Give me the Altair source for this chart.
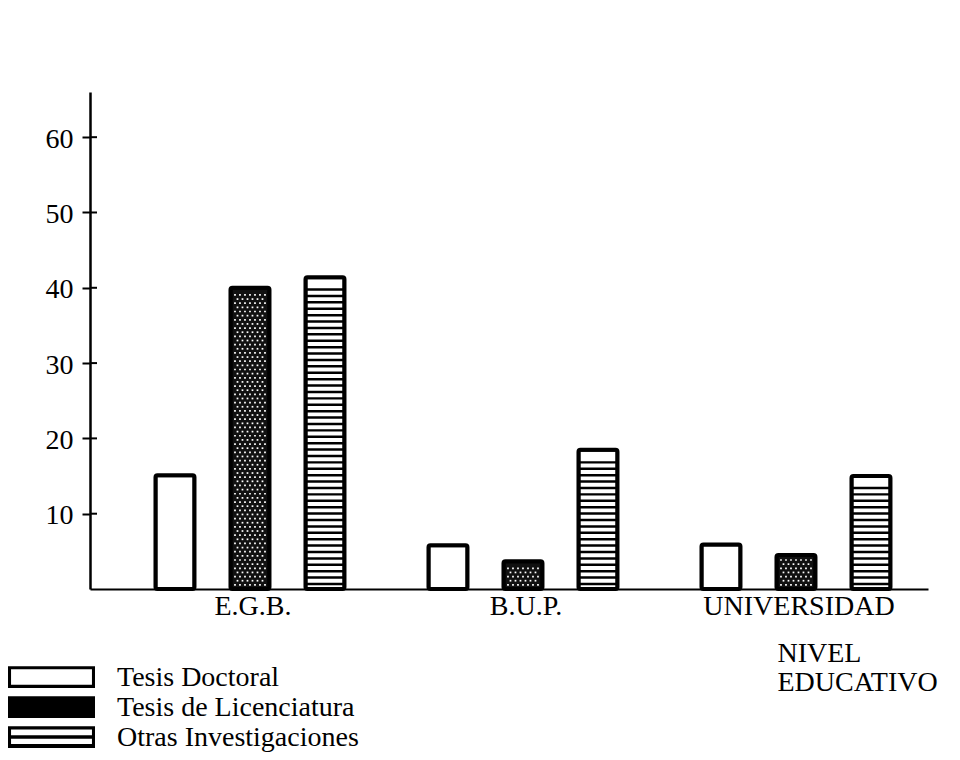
import altair as alt
import pandas as pd

categories = ["E.G.B.", "B.U.P.", "UNIVERSIDAD"]
series = ["Tesis Doctoral", "Tesis de Licenciatura", "Otras Investigaciones"]
tesis_doctoral = [15.1, 5.8, 5.9]
tesis_licenciatura = [40.0, 3.7, 4.5]
otras_investigaciones = [41.4, 18.5, 15.0]
y_ticks = [10, 20, 30, 40, 50, 60]
y_max = 66

FONT = "Liberation Serif"
FS = 28

rows = []
for i, c in enumerate(categories):
    for s, vals in zip(series, [tesis_doctoral, tesis_licenciatura, otras_investigaciones]):
        rows.append({"nivel": c, "tipo": s, "valor": vals[i]})
df = pd.DataFrame(rows)

# texture of "Otras Investigaciones": horizontal stripes
stripe_period = 0.85
stripe_thick = 0.33
stripes = []
for i, c in enumerate(categories):
    v = otras_investigaciones[i]
    k = 0
    while True:
        lo = 0.5 + k * stripe_period
        hi = lo + stripe_thick
        if hi > v - 0.75:
            break
        stripes.append({"nivel": c, "tipo": series[2], "lo": lo, "hi": hi})
        k += 1
df_stripes = pd.DataFrame(stripes)

# texture of "Tesis de Licenciatura": white dots
dots = []
row_h = 0.55
for i, c in enumerate(categories):
    v = tesis_licenciatura[i]
    r = 0
    while True:
        yv = 0.55 + r * row_h
        if yv > v - 0.5:
            break
        shift = 2.5 if r % 2 else 0
        for dx in range(-15, 16, 5):
            xx = dx + shift
            if abs(xx) > 15.5:
                continue
            dots.append({"nivel": c, "dx": xx, "yv": yv})
        r += 1
df_dots = pd.DataFrame(dots)

df_ticks = pd.DataFrame({"t": y_ticks})
df_legend = pd.DataFrame({"leyenda": series})

x_axis = alt.Axis(
    labelFont=FONT, labelFontSize=FS, labelColor="black", labelAngle=0, labelLimit=0,
    labelPadding=3, labelOffset=3, ticks=False, domainColor="black", domainWidth=2,
    title=["NIVEL", "EDUCATIVO"], titleFont=FONT, titleFontSize=FS,
    titleFontWeight="normal", titleColor="black", titleX=687, titleY=50,
    titleAlign="left", titleBaseline="top", titleLineHeight=29, titleLimit=0,
)
x_enc = alt.X("nivel:N", sort=categories,
              scale=alt.Scale(domain=categories, paddingInner=0.2, paddingOuter=0.1348, align=0.69),
              axis=x_axis)

y_axis = alt.Axis(
    values=y_ticks, title=None, grid=False,
    labelFont=FONT, labelFontSize=FS, labelColor="black", labelPadding=9, labelOffset=2,
    tickColor="black", tickWidth=2, tickSize=8, domainColor="black", domainWidth=2.5,
)
y_scale = alt.Scale(domain=[0, y_max], nice=False, zero=True)

offset_enc = alt.XOffset("tipo:N", sort=series,
                         scale=alt.Scale(domain=series, paddingInner=0.48, paddingOuter=0.196))

bars = alt.Chart(df).mark_bar(stroke="black", strokeWidth=4, cornerRadius=2).encode(
    x=x_enc,
    xOffset=offset_enc,
    y=alt.Y("valor:Q", scale=y_scale, axis=y_axis),
    fill=alt.Fill("tipo:N", scale=alt.Scale(domain=series, range=["white", "#111111", "white"]), legend=None),
)

stripe_layer = alt.Chart(df_stripes).mark_bar(color="black").encode(
    x=x_enc,
    xOffset=offset_enc,
    y=alt.Y("lo:Q", scale=y_scale, axis=y_axis),
    y2="hi:Q",
)

dot_layer = alt.Chart(df_dots).mark_square(color="white", size=3, opacity=1).encode(
    x=x_enc,
    xOffset=alt.XOffset("dx:Q", scale=alt.Scale(domain=[-109.2, 109.2], range=[0, 218.4])),
    y=alt.Y("yv:Q", scale=y_scale, axis=y_axis),
)

inner_ticks = alt.Chart(df_ticks).mark_rule(color="black", strokeWidth=2).encode(
    y=alt.Y("t:Q", scale=y_scale, axis=y_axis),
    x=alt.value(0),
    x2=alt.value(7),
)

main = alt.layer(bars, stripe_layer, dot_layer, inner_ticks).resolve_scale(xOffset="independent")

# legend built from the series list
sym_empty = "M-1,-0.25H1V0.25H-1Z M-0.93,-0.18V0.18H0.93V-0.18Z"
sym_full = "M-1,-0.25H1V0.25H-1Z"
sym_striped = ("M-1,-0.25H1V0.25H-1Z M-0.93,-0.17V-0.04H0.93V-0.17Z "
               "M-0.93,0.04V0.16H0.93V0.04Z")

leg_y = alt.Y("leyenda:N", axis=None,
              scale=alt.Scale(type="point", domain=series, range=[585, 645], padding=0))

legend_symbols = alt.Chart(df_legend).mark_point(
    filled=True, color="black", strokeWidth=0, opacity=1, size=7569
).encode(
    y=leg_y,
    x=alt.value(-38.5),
    shape=alt.Shape("leyenda:N", legend=None,
                    scale=alt.Scale(domain=series, range=[sym_empty, sym_full, sym_striped])),
)

legend_text = alt.Chart(df_legend).mark_text(
    font=FONT, fontSize=FS, color="black", align="left", baseline="middle", dy=1
).encode(
    y=leg_y,
    x=alt.value(27),
    text="leyenda:N",
)

chart = alt.layer(main, legend_symbols, legend_text).resolve_scale(
    y="independent"
).properties(
    width=838, height=497,
    autosize=alt.AutoSizeParams(type="none"),
    padding={"left": 82, "top": 84, "right": 20, "bottom": 167},
    background="white",
).configure_view(stroke=None)

chart.save("out.html", embed_options={"renderer": "svg", "actions": False})
